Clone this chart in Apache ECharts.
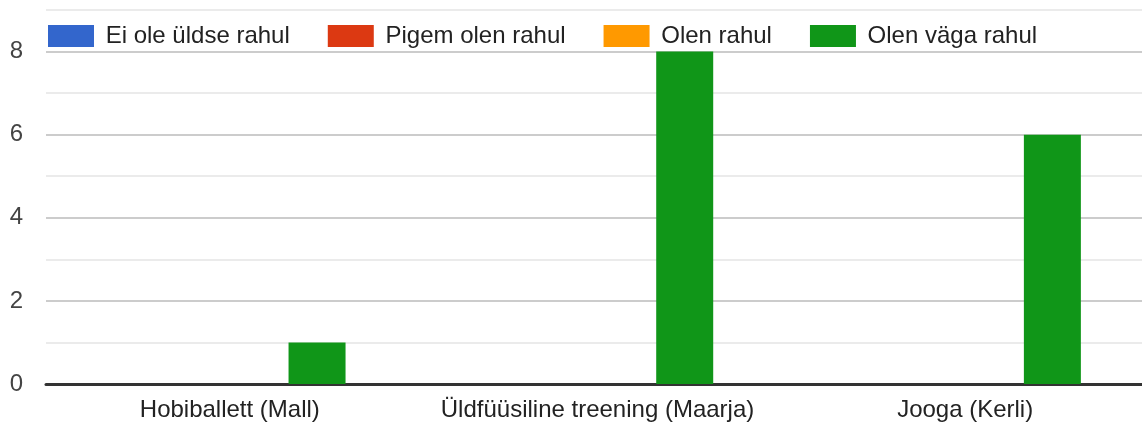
<!DOCTYPE html>
<html>
<head>
	<meta charset="UTF-8">
	<title>Rahulolu treeningutega</title>
	<style>
		html, body { margin: 0; padding: 0; background: #fff; }
		#chart { width: 1142px; height: 425px; }
	</style>
</head>
<body>
	<div id="chart"></div>

	<script src="https://cdn.jsdelivr.net/npm/echarts@6/dist/echarts.min.js"></script>
	<script type="text/javascript">
		// kategooriad (x-telg)
		var categories = ['Hobiballett (Mall)', 'Üldfüüsiline treening (Maarja)', 'Jooga (Kerli)'];
		// seeriate nimed
		var seriesNames = ['Ei ole üldse rahul', 'Pigem olen rahul', 'Olen rahul', 'Olen väga rahul'];
		// väärtused
		var eiOleRahul = [0, 0, 0];
		var pigemRahul = [0, 0, 0];
		var olenRahul = [0, 0, 0];
		var vagaRahul = [1, 8, 6];
		// y-telje vahemik
		var yMax = 9;

		var colors = ['#3366cc', '#dc3912', '#ff9900', '#109618'];
		var values = [eiOleRahul, pigemRahul, olenRahul, vagaRahul];
		var font = '"Liberation Sans", Arial, sans-serif';

		var myChart = echarts.init(document.getElementById('chart'));

		var series = [];
		for (var i = 0; i < seriesNames.length; i++) {
			series.push({
				name: seriesNames[i],
				type: 'bar',
				barWidth: 57,
				barGap: '2%',
				itemStyle: { color: colors[i] },
				data: values[i]
			});
		}

		var option = {
			animation: false,
			color: colors,
			legend: {
				data: seriesNames,
				left: 43,
				top: 19,
				itemWidth: 46,
				itemHeight: 22,
				itemGap: 38,
				icon: 'rect',
				// leading space -> wider gap between icon and text
				formatter: function (name) { return ' ' + name; },
				textStyle: { fontFamily: font, fontSize: 24, color: '#222' }
			},
			grid: {
				left: 46,
				width: 1103,
				top: 10,
				bottom: 41,
				// plot runs a little past the right edge of the picture
				outerBoundsMode: 'none'
			},
			xAxis: {
				type: 'category',
				data: categories,
				axisLine: { lineStyle: { color: '#333', width: 3 } },
				axisTick: { show: false },
				axisLabel: { fontFamily: font, fontSize: 24, color: '#222', margin: 14, interval: 0 }
			},
			yAxis: {
				type: 'value',
				min: 0,
				max: yMax,
				interval: 1,
				axisLine: { show: false },
				axisTick: { show: false },
				axisLabel: {
					fontFamily: font, fontSize: 24, color: '#444', margin: 23,
					formatter: function (v) { return v % 2 === 0 ? v : ''; }
				},
				splitLine: { lineStyle: { color: ['#cccccc', '#ebebeb'], width: 2 } }
			},
			series: series
		};

		myChart.setOption(option);
	</script>
</body>
</html>
